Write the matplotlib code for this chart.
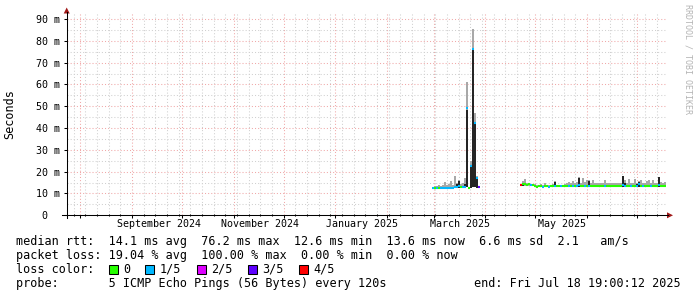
import matplotlib
matplotlib.use("Agg")
import matplotlib.pyplot as plt
import matplotlib.dates as mdates
from matplotlib.lines import Line2D
from matplotlib.patches import Polygon, Rectangle
from matplotlib.ticker import MultipleLocator, NullFormatter
import numpy as np
import pandas as pd

plt.rcParams['font.family'] = 'DejaVu Sans Mono'

W, H = 697, 297

# time range of the graph (smokeping "last 360 days")
end_time = pd.Timestamp("2025-07-18 19:00:12")
start_time = end_time - pd.Timedelta(days=360)
step_days = 1.2  # one rrd row

# ---- data, values in ms ----
seg1_start = pd.Timestamp("2025-02-28 00:00")
seg1_med = [12.7, 12.6, 12.6, 12.6, 12.6, 12.6, 12.7, 12.6, 12.6, 12.7,
            12.7, 12.8, 13.0, 13.3, 12.8, 12.8, 13.0, 49.0, 12.4, 22.6,
            76.2, 42.4, 17.2, 12.8]
seg1_lo = [12.4, 12.3, 12.3, 12.3, 12.3, 12.3, 12.3, 12.3, 12.3, 12.3,
           12.3, 12.3, 12.4, 12.5, 12.4, 12.4, 12.5, 12.8, 12.2, 12.4,
           13.0, 12.8, 12.5, 12.5]
seg1_dark = [12.4, 12.3, 12.3, 12.3, 12.3, 12.3, 12.3, 12.3, 12.3, 12.3,
             12.3, 12.3, 14.5, 15.8, 12.4, 13.5, 14.5, 48.5, 12.2, 22.0,
             76.0, 42.0, 17.0, 12.5]
seg1_hi = [13.0, 13.6, 13.4, 13.8, 13.5, 14.0, 15.3, 13.7, 14.2, 15.5,
           14.0, 18.0, 15.0, 16.0, 14.2, 14.8, 17.0, 61.0, 13.0, 25.0,
           85.6, 47.0, 18.0, 13.0]
seg1_loss = [1, 0, 1, 0, 1, 1, 1, 1, 1, 1,
             1, 1, 1, 1, 0, 1, 1, 1, 0, 1,
             1, 1, 1, 3]

seg2_start = pd.Timestamp("2025-04-21 19:00")
seg2_med = [13.8, 14.2, 14.2, 14.0, 14.2, 14.0, 14.0, 13.4, 13.2, 13.3,
            13.3, 13.2, 13.3, 13.3, 13.2, 13.3, 13.3, 13.6, 13.3, 13.3,
            13.3, 13.3, 13.3, 13.4, 13.4, 13.4, 13.4, 13.4, 13.4, 14.0,
            13.4, 13.4, 13.4, 13.4, 13.6, 13.4, 13.4, 13.5, 13.4, 13.4,
            13.4, 13.4, 13.5, 13.4, 13.4, 13.4, 13.4, 13.5, 13.4, 13.4,
            13.4, 14.0, 13.6, 13.4, 13.4, 13.4, 13.4, 13.4, 13.5, 14.2,
            13.6, 13.4, 13.4, 13.4, 13.4, 13.4, 13.4, 13.4, 13.4, 14.0,
            13.4, 13.4, 13.4]
seg2_lo = [13.4, 13.6, 13.6, 13.5, 13.6, 13.5, 13.5, 13.0, 12.9, 12.9,
           12.9, 12.9, 12.9, 12.9, 12.9, 12.9, 12.9, 13.0, 12.9, 12.9,
           12.9, 12.9, 12.9, 13.0, 13.0, 13.0, 13.0, 13.0, 13.0, 13.2,
           13.0, 13.0, 13.0, 13.0, 13.0, 13.0, 13.0, 13.0, 13.0, 13.0,
           13.0, 13.0, 13.0, 13.0, 13.0, 13.0, 13.0, 13.0, 13.0, 13.0,
           13.0, 13.2, 13.0, 13.0, 13.0, 13.0, 13.0, 13.0, 13.0, 13.2,
           13.0, 13.0, 13.0, 13.0, 13.0, 13.0, 13.0, 13.0, 13.0, 13.2,
           13.0, 13.0, 13.0]
seg2_dark = [13.4, 15.0, 13.6, 13.5, 13.6, 13.5, 13.5, 13.0, 12.9, 12.9,
             12.9, 12.9, 12.9, 12.9, 12.9, 12.9, 12.9, 15.4, 12.9, 12.9,
             12.9, 12.9, 12.9, 13.0, 13.0, 13.0, 13.0, 13.0, 13.0, 17.2,
             13.0, 13.0, 13.0, 13.0, 15.6, 13.0, 13.0, 13.0, 13.0, 13.0,
             13.0, 13.0, 13.0, 13.0, 13.0, 13.0, 13.0, 13.0, 13.0, 13.0,
             13.0, 17.8, 15.0, 13.0, 13.0, 13.0, 13.0, 13.0, 14.5, 15.2,
             14.0, 13.0, 13.0, 13.0, 13.0, 13.0, 13.0, 13.0, 13.0, 17.4,
             13.0, 13.0, 13.0]
seg2_hi = [14.3, 15.5, 16.5, 14.6, 14.6, 14.4, 14.4, 14.3, 13.8, 14.0,
           14.5, 13.8, 15.0, 13.8, 14.0, 13.8, 14.2, 15.6, 14.0, 13.8,
           14.0, 14.0, 14.3, 15.0, 15.4, 14.8, 15.5, 14.8, 15.2, 17.4,
           15.0, 17.0, 15.2, 16.3, 16.0, 14.8, 16.0, 14.8, 14.8, 15.0,
           14.8, 15.0, 16.1, 14.8, 15.0, 14.8, 15.0, 14.8, 15.0, 14.8,
           15.0, 18.2, 16.0, 14.8, 16.5, 15.0, 14.8, 16.5, 15.0, 15.5,
           16.0, 15.0, 14.8, 15.5, 16.0, 15.0, 16.0, 14.8, 15.0, 17.6,
           15.2, 15.0, 15.4]
seg2_loss = [4, 0, 0, 0, 0, 1, 0, 0, 0, 0,
             0, 1, 0, 0, 1, 0, 0, 1, 0, 0,
             1, 0, 0, 0, 1, 0, 1, 0, 1, 1,
             0, 0, 1, 0, 1, 0, 0, 0, 0, 0,
             0, 0, 1, 0, 0, 0, 0, 0, 0, 0,
             0, 1, 1, 0, 0, 1, 0, 0, 1, 1,
             0, 1, 0, 0, 0, 1, 0, 0, 0, 1,
             0, 0, 0]

loss_labels = ['0', '1/5', '2/5', '3/5', '4/5']
loss_colors = ['#26ff00', '#00b8ff', '#dd00ff', '#5e00ff', '#ff0000']

y_ticks = [0, 10, 20, 30, 40, 50, 60, 70, 80, 90]
y_ticklabels = ['0  ', '10 m', '20 m', '30 m', '40 m', '50 m', '60 m', '70 m', '80 m', '90 m']
x_labels = ['September 2024', 'November 2024', 'January 2025', 'March 2025', 'May 2025']
x_label_months = ['2024-09-01', '2024-11-01', '2025-01-01', '2025-03-01', '2025-05-01']

legend_rows = [
    "median rtt:  14.1 ms avg  76.2 ms max  12.6 ms min  13.6 ms now  6.6 ms sd  2.1   am/s",
    "packet loss: 19.04 % avg  100.00 % max  0.00 % min  0.00 % now",
    "loss color:",
    "probe:       5 ICMP Echo Pings (56 Bytes) every 120s",
]
end_text = "end: Fri Jul 18 19:00:12 2025"

smoke_light = '#a8a8a8'
smoke_dark = '#252525'
grid_red = '#f0a8a8'
grid_grey = '#d0d0d0'
arrow_red = '#a01818'


def fx(x):
    return x / W


def fy(y):
    return 1 - y / H


fig = plt.figure(figsize=(W / 100, H / 100), dpi=100)
fig.patch.set_facecolor('white')

ax_l, ax_r, ax_t, ax_b = 66.7, 666.7, 13.3, 215.3
ax = fig.add_axes([fx(ax_l), fy(ax_b), (ax_r - ax_l) / W, (ax_b - ax_t) / H])
ax.set_xlim(mdates.date2num(start_time), mdates.date2num(end_time))
ax.set_ylim(0, 92.6)
for s in ax.spines.values():
    s.set_visible(False)


def draw_block(start, med, lo, dark, hi, loss):
    t = mdates.date2num(start) + np.arange(len(med)) * step_days
    lo = np.array(lo)
    ax.bar(t, np.array(hi) - lo, bottom=lo, width=step_days, align='edge',
           color=smoke_light, linewidth=0, zorder=2)
    ax.bar(t, np.array(dark) - lo, bottom=lo, width=step_days, align='edge',
           color=smoke_dark, linewidth=0, zorder=3)
    ax.hlines(med, t, t + step_days, colors=[loss_colors[k] for k in loss],
              linewidth=1.5, zorder=4)


draw_block(seg1_start, seg1_med, seg1_lo, seg1_dark, seg1_hi, seg1_loss)
draw_block(seg2_start, seg2_med, seg2_lo, seg2_dark, seg2_hi, seg2_loss)

# grid
ax.set_axisbelow(True)
ax.xaxis.set_major_locator(mdates.MonthLocator())
ax.xaxis.set_minor_locator(mdates.WeekdayLocator(byweekday=mdates.SU))
ax.xaxis.set_major_formatter(NullFormatter())
ax.yaxis.set_major_locator(MultipleLocator(10))
ax.yaxis.set_minor_locator(MultipleLocator(5))
ax.grid(which='major', color=grid_red, linestyle=(0, (1, 2)), linewidth=0.75)
ax.grid(which='minor', color=grid_grey, linestyle=(0, (1, 2)), linewidth=0.75)

ax.set_yticks(y_ticks)
ax.set_yticklabels(y_ticklabels)
ax.tick_params(axis='y', which='major', direction='out', length=2.5, width=0.75,
               labelsize=7.2, pad=2.5)
ax.tick_params(axis='y', which='minor', length=0)
ax.tick_params(axis='x', which='major', direction='out', length=2.5, width=0.75)
ax.tick_params(axis='x', which='minor', direction='inout', length=2, width=0.75)

# month labels, centred half a month after the tick
for lab, m in zip(x_labels, x_label_months):
    xc = mdates.date2num(pd.Timestamp(m) + pd.Timedelta(days=16))
    ax.annotate(lab, xy=(xc, 0), xycoords=('data', 'axes fraction'),
                xytext=(0, -4), textcoords='offset pixels',
                ha='center', va='top', fontsize=7.2)

# axis lines and arrows
fig.add_artist(Line2D([fx(62), fx(668)], [fy(ax_b), fy(ax_b)], color='black', lw=0.75))
fig.add_artist(Line2D([fx(ax_l), fx(ax_l)], [fy(218), fy(12)], color='black', lw=0.75))
fig.add_artist(Polygon([[fx(673), fy(ax_b)], [fx(667), fy(ax_b - 3)], [fx(667), fy(ax_b + 3)]],
                       closed=True, color=arrow_red, lw=0))
fig.add_artist(Polygon([[fx(ax_l), fy(7.5)], [fx(ax_l - 3), fy(13.5)], [fx(ax_l + 3), fy(13.5)]],
                       closed=True, color=arrow_red, lw=0))

# unit label and watermark
fig.text(fx(10), fy(114), "Seconds", rotation=90, ha='center', va='center', fontsize=8.5)
fig.text(fx(688), fy(4), "RRDTOOL / TOBI OETIKER", rotation=-90, ha='center', va='top',
         fontsize=6, color='#b4b4b4')

# legend
row_y = [241.5, 255.5, 269.5, 283.5]
for txt, yy in zip(legend_rows, row_y):
    fig.text(fx(16), fy(yy), txt, ha='left', va='center', fontsize=8.5)
fig.text(fx(681), fy(row_y[3]), end_text, ha='right', va='center', fontsize=8.5)

bx = 108.5
for lab, col in zip(loss_labels, loss_colors):
    fig.add_artist(Rectangle((fx(bx), fy(row_y[2] + 4.5)), 9 / W, 9 / H,
                             facecolor=col, edgecolor='black', lw=0.75))
    fig.text(fx(bx + 14.5), fy(row_y[2]), lab, ha='left', va='center', fontsize=8.5)
    bx += 14.5 + 7.1 * len(lab) + 15.3

fig.savefig("out.png", dpi=100)
